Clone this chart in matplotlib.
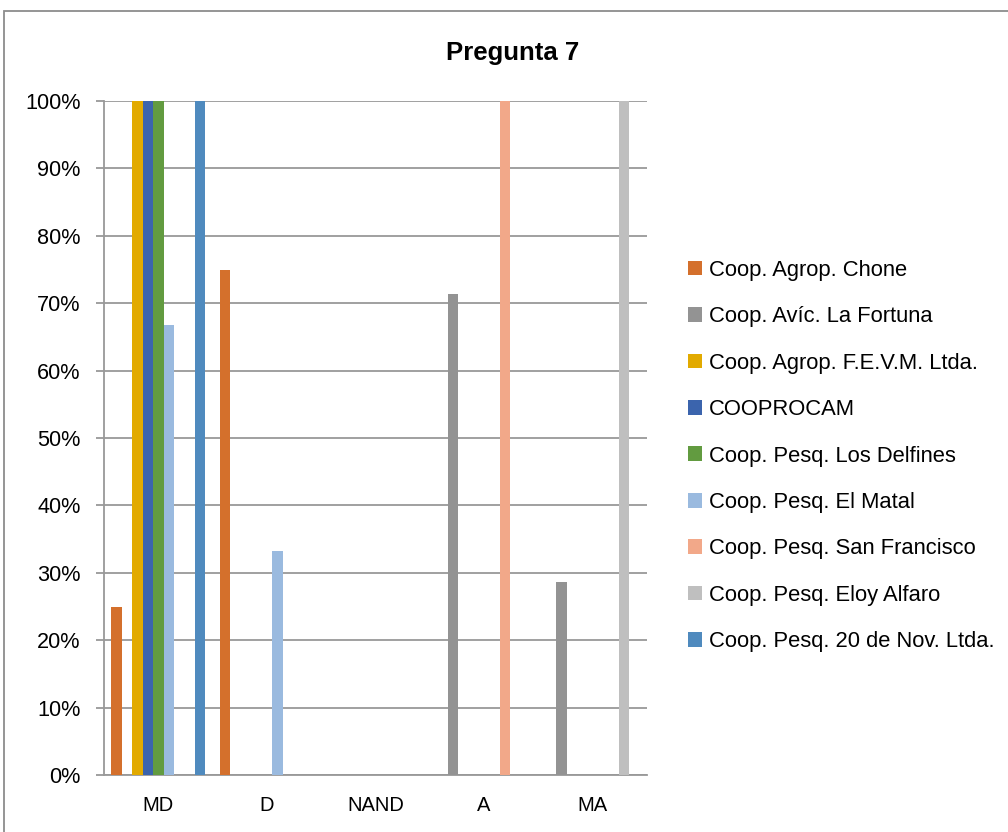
import numpy as np
import matplotlib
matplotlib.use("Agg")
import matplotlib.pyplot as plt
from matplotlib.patches import Rectangle

plt.rcParams['font.family'] = ['Liberation Sans', 'DejaVu Sans']

categories = ['MD', 'D', 'NAND', 'A', 'MA']
series = [
    'Coop. Agrop. Chone',
    'Coop. Avíc. La Fortuna',
    'Coop. Agrop. F.E.V.M. Ltda.',
    'COOPROCAM',
    'Coop. Pesq. Los Delfines',
    'Coop. Pesq. El Matal',
    'Coop. Pesq. San Francisco',
    'Coop. Pesq. Eloy Alfaro',
    'Coop. Pesq. 20 de Nov. Ltda.',
]
chone = [0.25, 0.75, 0, 0, 0]
fortuna = [0, 0, 0, 0.714, 0.286]
fevm = [1.0, 0, 0, 0, 0]
cooprocam = [1.0, 0, 0, 0, 0]
delfines = [1.0, 0, 0, 0, 0]
matal = [0.667, 0.333, 0, 0, 0]
sanfrancisco = [0, 0, 0, 1.0, 0]
eloy = [0, 0, 0, 0, 1.0]
nov20 = [1.0, 0, 0, 0, 0]
values = [chone, fortuna, fevm, cooprocam, delfines, matal, sanfrancisco, eloy, nov20]
colors = ['#D4702C', '#939393', '#E2AA00', '#3B64AD', '#629B40',
          '#9ABADF', '#F2A889', '#BFBFBF', '#4F8ABE']

fig = plt.figure(figsize=(10.08, 8.32), dpi=100)
ax = fig.add_axes([104/1008, 57/832, 543/1008, 674/832])

x = np.arange(len(categories))
w = 0.096
for i, (name, vals, c) in enumerate(zip(series, values, colors)):
    ax.bar(x + (i - 4) * w, vals, width=w, color=c, label=name, zorder=3)

ax.set_xlim(-0.5, 4.5)
ax.set_ylim(0, 1.0)
ax.set_yticks(np.arange(0, 1.01, 0.1))
ax.set_yticklabels([f'{int(round(v*100))}%' for v in np.arange(0, 1.01, 0.1)])
ax.set_xticks(x)
ax.set_xticklabels(categories)
ax.grid(axis='y', color='#999999', linewidth=1.3, zorder=0)
for s in ['top', 'right']:
    ax.spines[s].set_visible(False)
for s in ['left', 'bottom']:
    ax.spines[s].set_color('#999999')
    ax.spines[s].set_linewidth(1.3)
ax.tick_params(axis='y', length=6, width=1.3, color='#999999', labelsize=15.6, pad=11)
ax.tick_params(axis='x', length=0, labelsize=14.5, pad=15)

fig.text(513/1008, 1 - 53/832, 'Pregunta 7', ha='center', va='center',
         fontsize=18.5, fontweight='bold')

ax.legend(loc='center left', bbox_to_anchor=(688/1008, 1 - 456/832),
          bbox_transform=fig.transFigure, frameon=False, fontsize=15.8,
          handlelength=0.65, handleheight=0.65, handletextpad=0.3,
          labelspacing=1.16, borderaxespad=0, borderpad=0)

fig.patches.append(Rectangle((4/1008, -0.05), 1.1, 1 - 11/832 + 0.05,
                             transform=fig.transFigure, fill=False,
                             edgecolor='#8c8c8c', linewidth=1.3))

fig.savefig('out.png', dpi=100)
